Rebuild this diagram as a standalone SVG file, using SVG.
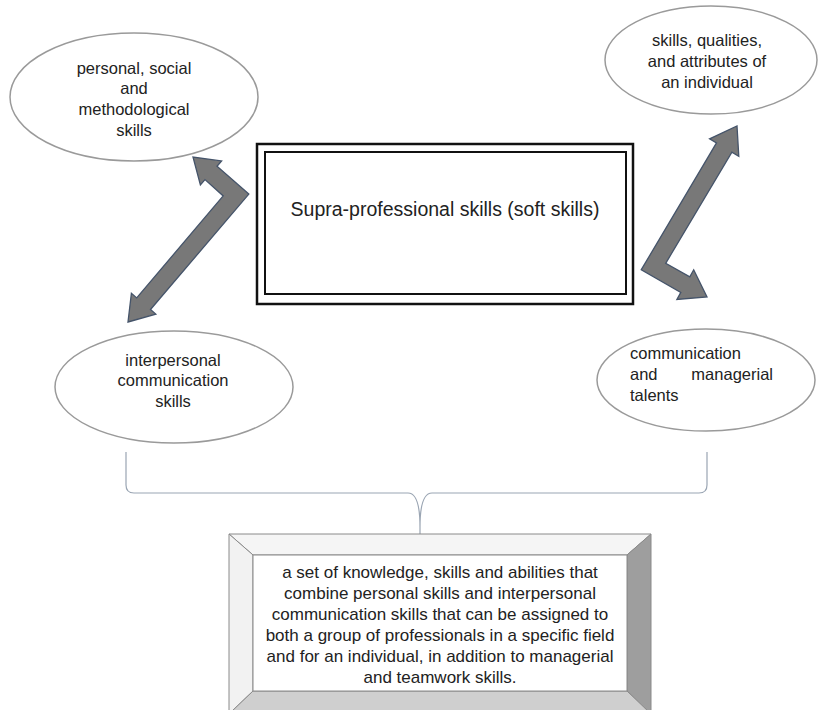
<svg xmlns="http://www.w3.org/2000/svg" width="819" height="710" viewBox="0 0 819 710">
<style>
.bg{fill:#fff}
.ell{fill:#fff;stroke:#9a9a9a;stroke-width:1.5}
.t{font-family:"Liberation Sans",Arial,sans-serif;font-size:16.5px;fill:#222}
.tc{text-anchor:middle}
.arr{fill:#787878;stroke:#45546a;stroke-width:1.3;stroke-linejoin:miter}
.brace{fill:none;stroke:#9aa5b3;stroke-width:1.2}
</style>
<rect class="bg" x="0" y="0" width="819" height="710"/>
<g id="connectors">
<polygon class="arr" points="248.8,194.1 217,166.2 221.6,160.9 193,157 200.4,184.9 205,179.6 223.2,195.9 136.7,297.9 131.4,293.3 128,322 155.8,314.1 150.5,309.5"/>
<polygon class="arr" points="641.3,269.7 716.5,142.9 709.6,138.8 737,126 738.8,156.2 731.9,152.1 665.7,263.3 689.8,276.8 693.7,269.8 707,297 676.9,299.4 680.8,292.4"/>
<path class="brace" d="M126,452 L126,485 Q126,493 134,493 L408,493 Q420,493 420,527 Q420,493 432,493 L699,493 Q707,493 707,485 L707,452"/>
<line class="brace" x1="420" y1="527" x2="420" y2="534"/>
</g>
<g id="node-personal">
<ellipse class="ell" cx="134" cy="97" rx="124" ry="64"/>
<text class="t tc" x="134" y="74">personal, social</text>
<text class="t tc" x="134" y="94">and</text>
<text class="t tc" x="134" y="115">methodological</text>
<text class="t tc" x="134" y="136">skills</text>
</g>
<g id="node-qualities">
<ellipse class="ell" cx="711" cy="60" rx="106" ry="54"/>
<text class="t tc" x="707" y="46">skills, qualities,</text>
<text class="t tc" x="707" y="67">and attributes of</text>
<text class="t tc" x="707" y="88">an individual</text>
</g>
<g id="node-central">
<rect x="257" y="144" width="376" height="160" fill="#fff" stroke="#111" stroke-width="2.5"/>
<rect x="265" y="152" width="361" height="142" fill="none" stroke="#111" stroke-width="2"/>
<text class="t tc" x="445" y="216" style="font-size:19.5px">Supra-professional skills (soft skills)</text>
</g>
<g id="node-interpersonal">
<ellipse class="ell" cx="174" cy="387" rx="119" ry="56"/>
<text class="t tc" x="173" y="366">interpersonal</text>
<text class="t tc" x="173" y="386">communication</text>
<text class="t tc" x="173" y="407">skills</text>
</g>
<g id="node-communication">
<ellipse class="ell" cx="706" cy="380" rx="109" ry="51"/>
<text class="t" x="630" y="359">communication</text>
<text class="t" x="630" y="380">and</text>
<text class="t" x="773" y="380" text-anchor="end">managerial</text>
<text class="t" x="630" y="401">talents</text>
</g>
<g id="node-definition">
<polygon points="229,534 651,534 627,555 253,555" fill="#f5f5f5" stroke="#8a8a8a" stroke-width="1"/>
<polygon points="229,534 253,555 253,691 229,714" fill="#f2f2f2" stroke="#8a8a8a" stroke-width="1"/>
<polygon points="651,534 651,714 627,691 627,555" fill="#9e9e9e" stroke="#8a8a8a" stroke-width="1"/>
<polygon points="229,714 253,691 627,691 651,714" fill="#cfcfcf" stroke="#8a8a8a" stroke-width="1"/>
<rect x="253" y="555" width="374" height="136" fill="#fff" stroke="#8a8a8a" stroke-width="1"/>
<text class="t tc" x="440" y="578" style="font-size:17px">a set of knowledge, skills and abilities that</text>
<text class="t tc" x="440" y="599" style="font-size:17px">combine personal skills and interpersonal</text>
<text class="t tc" x="440" y="620" style="font-size:17px">communication skills that can be assigned to</text>
<text class="t tc" x="440" y="641" style="font-size:17px">both a group of professionals in a specific field</text>
<text class="t tc" x="440" y="662" style="font-size:17px">and for an individual, in addition to managerial</text>
<text class="t tc" x="440" y="683" style="font-size:17px">and teamwork skills.</text>
</g>
</svg>
